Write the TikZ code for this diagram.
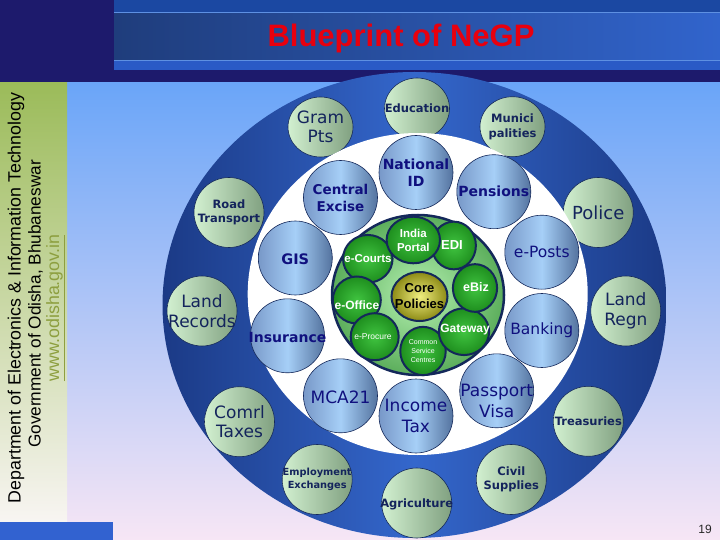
\documentclass[tikz,border=0pt]{standalone}
\usepackage{fontspec}
\setmainfont{Liberation Sans}
\newfontfamily\dejavu{DejaVu Sans}
\usetikzlibrary{shapes.geometric}
\definecolor{HeadNavy}{HTML}{1D1A6C}
\definecolor{HeadBlue}{HTML}{1B48A2}
\definecolor{HeadLeft}{HTML}{1F3D7C}
\definecolor{HeadRight}{HTML}{3164CC}
\definecolor{HeadStrip}{HTML}{2A5AC6}
\definecolor{HeadLine}{HTML}{5E90E2}
\definecolor{BgTop}{HTML}{6AA5F8}
\definecolor{BgBottom}{HTML}{F7E6F5}
\definecolor{BandGreen}{HTML}{9BBB59}
\definecolor{BandPale}{HTML}{F8F5F2}
\definecolor{CornerBlue}{HTML}{3262D0}
\definecolor{WebGreen}{HTML}{8D9F3F}
\definecolor{TitleRed}{HTML}{E8000E}
\definecolor{RingEdge}{HTML}{1B3A86}
\definecolor{RingMid}{HTML}{3467CC}
\definecolor{OutLight}{HTML}{D2F0D0}
\definecolor{OutDark}{HTML}{80A080}
\definecolor{MidEdge}{HTML}{7898C8}
\definecolor{MidLight}{HTML}{A6CFF7}
\definecolor{MidDark}{HTML}{54739F}
\definecolor{CoreLight}{HTML}{B4F0B0}
\definecolor{CoreDark}{HTML}{5CAE5C}
\definecolor{BallLight}{HTML}{40C440}
\definecolor{BallDark}{HTML}{1E8E1E}
\definecolor{PolLight}{HTML}{F0EE80}
\definecolor{PolDark}{HTML}{8C8A14}
\definecolor{LineNavy}{HTML}{14285A}
\definecolor{TextNavy}{HTML}{14245C}
\definecolor{TextBlue}{HTML}{10107E}
\tikzset{
    % Outer ring service
    outerc/.style={
        circle,
        draw=LineNavy,
        line width=0.6pt,
        left color=OutLight,
        right color=OutDark,
        minimum size=70pt,
        inner sep=0pt
    },
    % Smaller outer ring service
    outere/.style={
        ellipse,
        draw=LineNavy,
        line width=0.6pt,
        left color=OutLight,
        right color=OutDark,
        minimum width=65pt,
        minimum height=61pt,
        inner sep=0pt
    },
    % Middle ring service
    midc/.style={
        circle,
        draw=LineNavy,
        line width=0.6pt,
        left color=MidEdge,
        right color=MidDark,
        middle color=MidLight,
        minimum size=74pt,
        inner sep=0pt
    },
    % Core ring service
    ballc/.style={
        ellipse,
        draw=LineNavy,
        line width=2pt,
        inner color=BallLight,
        outer color=BallDark,
        minimum width=48pt,
        minimum height=47pt,
        inner sep=0pt
    },
    % Centre
    policy/.style={
        ellipse,
        draw=LineNavy,
        line width=2pt,
        inner color=PolLight,
        outer color=PolDark,
        minimum width=56pt,
        minimum height=49pt,
        inner sep=0pt
    },
    % Text styles
    bigtxt/.style={text=TextNavy, align=center, inner sep=0pt,
        font=\dejavu\fontsize{17}{19.5}\selectfont},
    boldtxt/.style={text=TextNavy, align=center, inner sep=0pt,
        font=\dejavu\bfseries\fontsize{11.5}{14.5}\selectfont},
    midtxt/.style={text=TextBlue, align=center, inner sep=0pt,
        font=\dejavu\bfseries\fontsize{14}{16.5}\selectfont},
    plaintxt/.style={text=TextBlue, align=center, inner sep=0pt,
        font=\dejavu\fontsize{15.5}{18}\selectfont},
    largetxt/.style={text=TextBlue, align=center, inner sep=0pt,
        font=\dejavu\fontsize{17}{20.5}\selectfont},
    balltxt/.style={text=white, align=center, inner sep=0pt,
        font=\bfseries\fontsize{11.5}{14}\selectfont},
    smalltxt/.style={text=white, align=center, inner sep=0pt,
        font=\fontsize{7}{9}\selectfont},
    % Side texts
    sidetxt/.style={rotate=90, inner sep=0pt, font=\fontsize{17.8}{20}\selectfont}
}
\begin{document}
\begin{tikzpicture}[x=1pt, y=-1pt]
    \useasboundingbox (0,0) rectangle (720,540);

    % Background
    \fill[top color=BgTop, bottom color=BgBottom] (0,82) rectangle (720,540);
    \fill[top color=BandGreen, bottom color=BandPale] (0,82) rectangle (67,522);
    \fill[CornerBlue] (0,522) rectangle (113,540);

    % Header
    \fill[HeadNavy] (0,0) rectangle (720,82);
    \fill[HeadBlue] (114,0) rectangle (720,12);
    \fill[left color=HeadLeft, right color=HeadRight] (114,13) rectangle (720,60);
    \fill[HeadStrip] (114,61) rectangle (720,70);
    \draw[HeadLine, line width=0.8pt] (114,12.5) -- (720,12.5);
    \draw[HeadLine, line width=0.8pt] (114,60.5) -- (720,60.5);
    \node[text=TitleRed, font=\bfseries\fontsize{31}{36}\selectfont] (title) at (401,38) {Blueprint of NeGP};

    % Side texts
    \node[sidetxt] (dept) at (16,298) {Department of Electronics \& Information Technology};
    \node[sidetxt, font=\fontsize{17.2}{20}\selectfont] (govt) at (35.5,304) {Government of Odisha, Bhubaneswar};
    \node[sidetxt, text=WebGreen] (web) at (55.5,308) {\underline{www.odisha.gov.in}};

    % Blue ring
    \path[left color=RingEdge, right color=RingEdge, middle color=RingMid] (414.5,305) ellipse (252pt and 233pt);

    % Outer services
    \node[outere] (educ) at (417,108.5) {};
    \node[boldtxt] (educ-t) at (educ) {Education};
    \node[outere, minimum height=60pt] (gram) at (320.5,127) {};
    \node[bigtxt] (gram-t) at (gram) {Gram\\Pts};
    \node[outere, minimum height=60pt] (munici) at (512.5,126.7) {};
    \node[boldtxt] (munici-t) at (munici) {Munici\\palities};
    \node[outerc] (road) at (229,212.5) {};
    \node[boldtxt] (road-t) at (road) {Road\\Transport};
    \node[outerc] (police) at (598.3,212.5) {};
    \node[bigtxt, font=\dejavu\fontsize{18}{20}\selectfont] (police-t) at (police) {Police};
    \node[outerc] (landrec) at (202,311) {};
    \node[bigtxt] (landrec-t) at (landrec) {Land\\Records};
    \node[outerc] (landregn) at (625.8,311) {};
    \node[bigtxt] (landregn-t) at (landregn) {Land\\Regn};
    \node[outerc] (comrl) at (239.5,421.7) {};
    \node[bigtxt] (comrl-t) at (comrl) {Comrl\\Taxes};
    \node[outerc] (treas) at (588.3,421.3) {};
    \node[boldtxt] (treas-t) at (treas) {Treasuries};
    \node[outerc] (employ) at (317.2,479.5) {};
    \node[boldtxt, font=\dejavu\bfseries\fontsize{9.8}{13}\selectfont] (employ-t) at (employ) {Employment\\Exchanges};
    \node[outerc] (civil) at (511.3,479.5) {};
    \node[boldtxt] (civil-t) at (civil) {Civil\\Supplies};
    \node[outerc] (agri) at (416.7,503) {};
    \node[boldtxt] (agri-t) at (416.7,504) {Agriculture};

    % White ring
    \fill[white] (417.7,294) ellipse (170pt and 161pt);

    % Middle services
    \node[midc] (natid) at (416,172.5) {};
    \node[midtxt] (natid-t) at (natid) {National\\ID};
    \node[midc] (central) at (340.5,197.5) {};
    \node[midtxt, font=\dejavu\bfseries\fontsize{13.5}{17}\selectfont] (central-t) at (central) {Central\\Excise};
    \node[midc] (pens) at (493.8,191.7) {};
    \node[midtxt] (pens-t) at (pens) {Pensions};
    \node[midc] (gis) at (295.3,258) {};
    \node[midtxt, font=\dejavu\bfseries\fontsize{14.5}{17}\selectfont] (gis-t) at (295.3,259) {GIS};
    \node[midc] (eposts) at (541.8,252.2) {};
    \node[plaintxt] (eposts-t) at (eposts) {e-Posts};
    \node[midc] (insur) at (287.5,335.8) {};
    \node[midtxt] (insur-t) at (287.5,337) {Insurance};
    \node[midc] (banking) at (541.8,330.5) {};
    \node[plaintxt] (banking-t) at (banking) {Banking};
    \node[midc] (mca) at (340.5,395.8) {};
    \node[largetxt] (mca-t) at (340.5,397) {MCA21};
    \node[midc] (income) at (416,416) {};
    \node[largetxt] (income-t) at (income) {Income\\Tax};
    \node[midc] (passport) at (496.7,390.8) {};
    \node[largetxt] (passport-t) at (496.7,401) {Passport\\Visa};

    % Core ring
    \fill[inner color=CoreLight, outer color=CoreDark] (418,295) ellipse (86pt and 80pt);
    \draw[LineNavy, line width=2.5pt] (418,295) ellipse (86pt and 80pt);
    \node[ballc, minimum width=49.5pt, minimum height=47.7pt] (courts) at (367.8,258.8) {};
    \node[ballc] (office) at (356.8,300) {};
    \node[ballc] (procure) at (374.7,336.7) {};
    \node[ballc, minimum width=45.5pt, minimum height=48.3pt] (csc) at (423,351) {};
    \node[ballc, minimum width=50.3pt, minimum height=46.7pt] (gateway) at (464,331.7) {};
    \node[ballc, minimum width=44.2pt, minimum height=47.7pt] (edi) at (453.8,245.5) {};
    \node[ballc, minimum width=44.2pt, minimum height=47.7pt] (ebiz) at (475,288) {};
    \node[ballc, minimum width=53.4pt, minimum height=46.6pt] (india) at (413.3,240) {};
    \node[balltxt] (courts-t) at (368,259) {e-Courts};
    \node[balltxt, font=\bfseries\fontsize{12}{14}\selectfont] (office-t) at (357,305) {e-Office};
    \node[smalltxt, font=\fontsize{8.5}{10}\selectfont] (procure-t) at (373,337) {e-Procure};
    \node[smalltxt] (csc-t) at (csc) {Common\\Service\\Centres};
    \node[balltxt, font=\bfseries\fontsize{12}{14}\selectfont] (gateway-t) at (465,330) {Gateway};
    \node[balltxt, font=\bfseries\fontsize{13}{15}\selectfont] (edi-t) at (452,245) {EDI};
    \node[balltxt, font=\bfseries\fontsize{12.5}{15}\selectfont] (ebiz-t) at (476,287) {eBiz};
    \node[balltxt] (india-t) at (india) {India\\Portal};

    % Centre
    \node[policy] (core) at (419.5,296.5) {};
    \node[balltxt, text=black, font=\bfseries\fontsize{13}{16}\selectfont] (core-t) at (core) {Core\\Policies};

    % Page number
    \node[text=black!85, font=\fontsize{12}{14}\selectfont] (page) at (705,529) {19};
\end{tikzpicture}
\end{document}
